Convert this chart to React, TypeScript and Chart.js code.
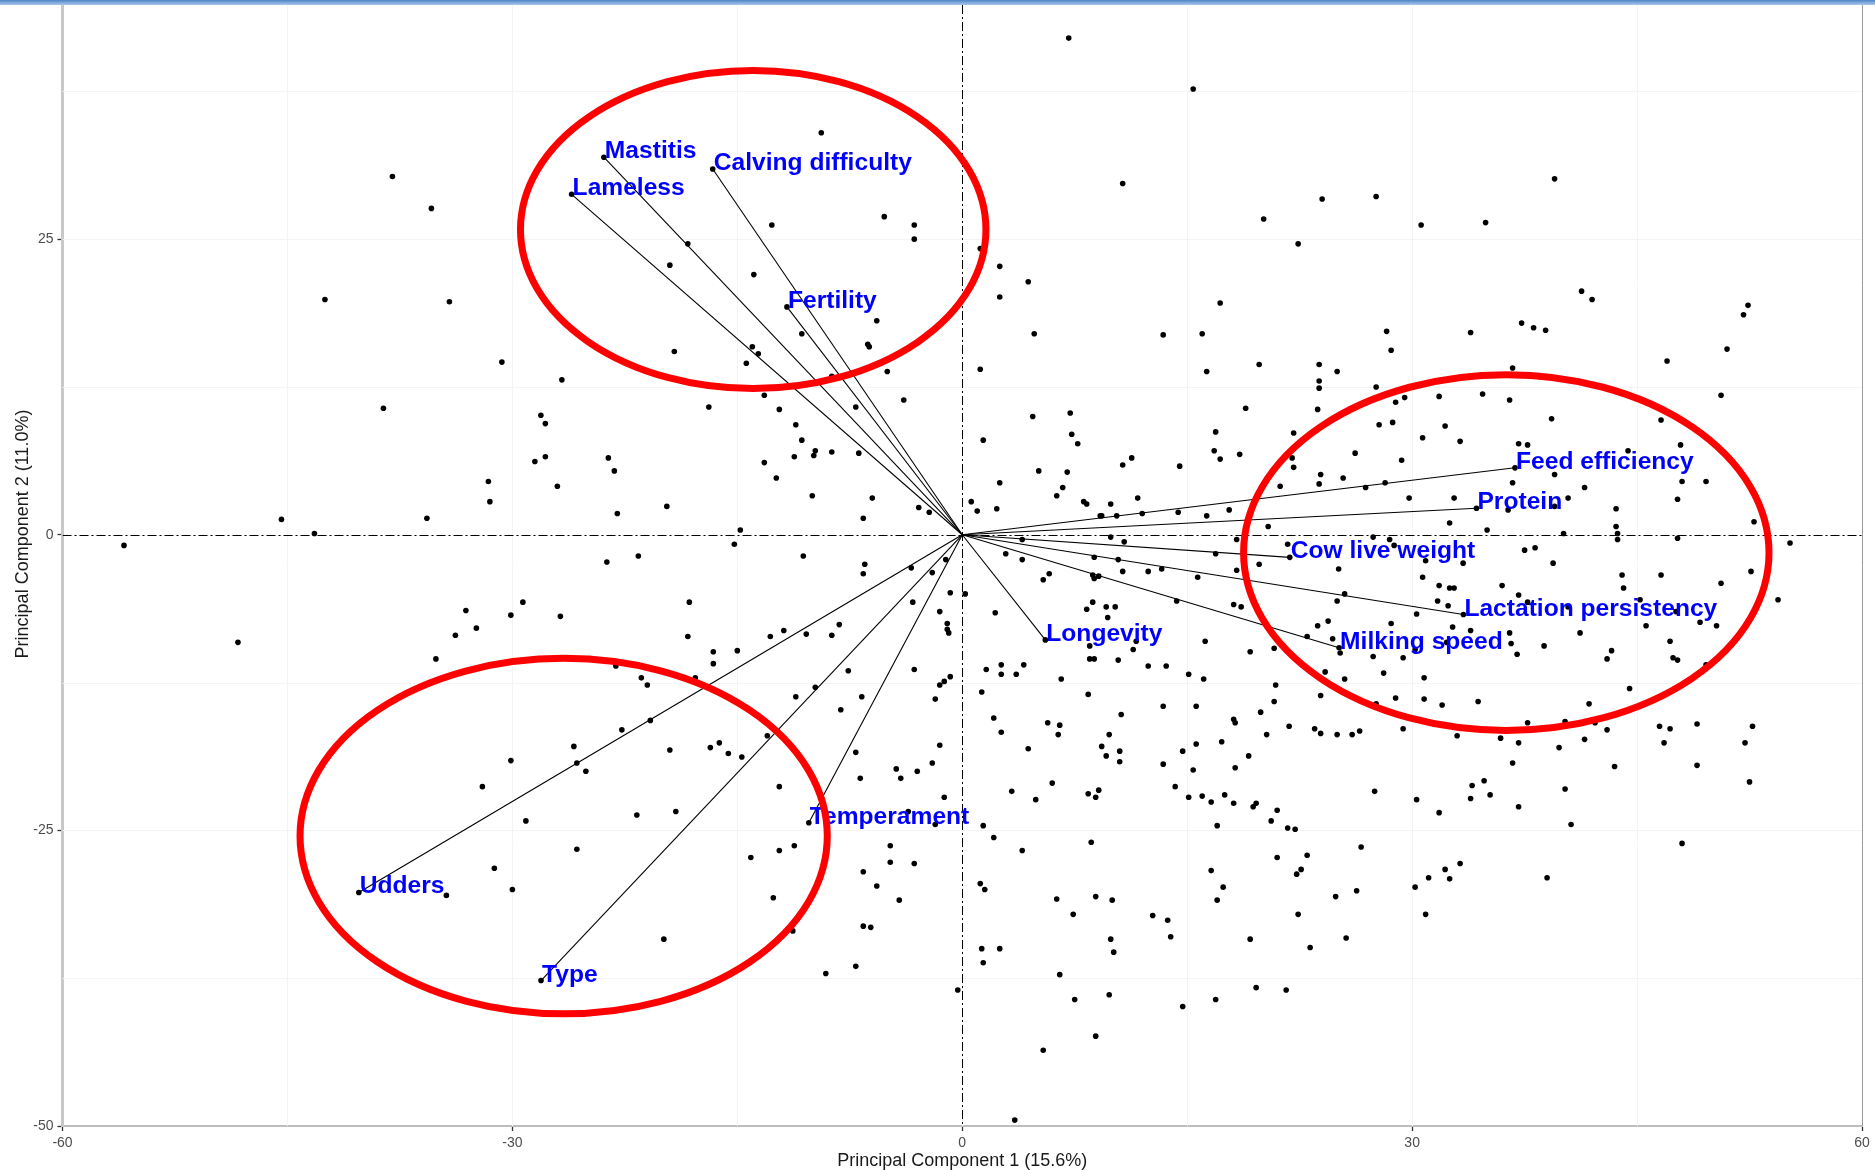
import React, { useEffect, useRef } from "react";
import { Chart, registerables } from "chart.js";

Chart.register(...registerables);

// ---------- axis / text ----------
const X_TICKS = [-60, -30, 0, 30, 60];
const Y_TICKS = [-50, -25, 0, 25];
const X_GRID = [-45, -30, -15, 0, 15, 30, 45];
const Y_GRID = [-37.5, -25, -12.5, 0, 12.5, 25, 37.5];
const X_MIN = -60;
const X_MAX = 60;
const Y_MIN = -50;
const Y_MAX = 44.8;
const X_TITLE = "Principal Component 1 (15.6%)";
const Y_TITLE = "Principal Component 2 (11.0%)";

// ---------- individual PC scores (PC1, PC2) ----------
const scoresUpperLeft: number[][] = [
  [-38.0, 30.3], [-35.4, 27.6], [-42.5, 19.9], [-34.2, 19.7], [-30.7, 14.6], [-26.7, 13.1],
  [-38.6, 10.7], [-28.1, 10.1], [-27.8, 9.4], [-28.5, 6.2], [-27.8, 6.6], [-31.6, 4.5],
  [-31.5, 2.8], [-27.0, 4.1], [-23.6, 6.5], [-23.2, 5.4], [-23.0, 1.8], [-45.4, 1.3],
  [-43.2, 0.1], [-35.7, 1.4], [-55.9, -0.9], [-23.7, -2.3], [-21.6, -1.8],
];

const scoresUpperMid: number[][] = [
  [7.1, 42.0], [15.4, 37.7], [-9.4, 34.0], [10.7, 29.7], [-5.2, 26.9], [-3.2, 26.2], [-3.2, 25.0],
  [-12.7, 26.2], [-18.3, 24.6], [-19.5, 22.8], [-13.9, 22.0], [1.2, 24.2], [2.5, 22.7], [4.4, 21.4],
  [2.5, 20.1], [17.2, 19.6], [4.8, 17.0], [13.4, 16.9], [16.0, 17.0], [16.3, 13.8], [19.8, 14.4],
  [1.2, 14.0], [-5.7, 18.1], [-10.7, 17.0], [-6.3, 16.1], [-6.2, 15.9], [-14.0, 15.9], [-13.6, 15.3],
  [-14.4, 14.5], [-19.2, 15.5], [-5.0, 13.8], [-8.7, 13.4], [-13.2, 11.8], [-16.9, 10.8], [-12.2, 10.6],
  [-7.1, 10.8], [-3.9, 11.4], [-11.1, 9.3], [-10.7, 8.0], [-9.8, 7.1], [-9.9, 6.7], [-11.2, 6.6],
  [-8.7, 7.0], [-6.9, 6.9], [-13.2, 6.1], [-12.4, 4.8], [-10.0, 3.3], [-6.0, 3.1], [-6.6, 1.4],
  [-2.9, 2.3], [-2.2, 1.9], [-19.7, 2.4], [-14.8, 0.4], [-15.2, -0.8], [-10.6, -1.8], [-6.5, -2.5],
  [-1.1, -2.1], [0.6, 2.8], [1.0, 2.0], [2.3, 2.2], [4.7, 10.0], [7.2, 10.3], [1.4, 8.0], [7.3, 8.5],
  [7.7, 7.7], [2.5, 4.4], [5.1, 5.4], [7.0, 5.3], [6.7, 4.0], [6.3, 3.3], [8.1, 2.8], [8.3, 2.6],
  [9.9, 2.6], [9.2, 1.6], [9.3, 1.6], [10.3, 1.6], [10.7, 5.9], [11.3, 6.5], [11.7, 3.1], [12.0, 1.8],
  [14.5, 5.8], [14.4, 1.9], [16.3, 1.6], [17.8, 2.1], [18.9, 10.7], [16.9, 8.7], [16.8, 7.1],
  [17.2, 6.4], [18.5, 6.8], [4.0, -0.4], [9.9, -0.2], [10.8, -0.6], [2.9, -1.6], [4.0, -2.1],
  [8.8, -1.9], [10.4, -2.1], [16.9, -1.6], [18.3, -0.4], [19.8, -2.5],
];

const scoresUpperRight: number[][] = [
  [39.5, 30.1], [24.0, 28.4], [27.6, 28.6], [20.1, 26.7], [30.6, 26.2], [34.9, 26.4], [22.4, 24.6],
  [41.3, 20.6], [42.0, 19.9], [52.4, 19.4], [52.1, 18.6], [28.3, 17.2], [28.6, 15.6], [33.9, 17.1],
  [37.3, 17.9], [38.1, 17.5], [38.9, 17.3], [51.0, 15.7], [47.0, 14.7], [23.8, 14.4], [25.0, 13.8],
  [23.8, 13.0], [23.8, 12.4], [27.6, 12.5], [36.7, 14.1], [50.6, 11.8], [23.7, 10.6], [29.5, 11.6],
  [28.9, 11.2], [31.8, 11.7], [34.7, 11.9], [36.5, 11.4], [39.3, 9.8], [46.6, 9.7], [22.1, 8.6],
  [27.8, 9.3], [28.7, 9.5], [32.2, 9.2], [30.7, 8.2], [33.2, 7.9], [37.1, 7.7], [37.7, 7.6],
  [47.9, 7.6], [44.4, 7.1], [26.2, 6.9], [22.0, 6.5], [22.1, 5.7], [29.3, 6.3], [23.9, 5.1],
  [23.8, 4.3], [25.4, 4.8], [21.2, 4.1], [26.9, 4.0], [28.2, 4.4], [29.8, 3.1], [32.8, 3.1],
  [36.7, 4.4], [39.5, 5.1], [41.5, 4.0], [40.4, 3.1], [39.5, 2.4], [36.4, 2.1], [43.6, 2.2],
  [48.0, 4.5], [49.6, 4.5], [47.7, 3.0], [52.8, 1.1], [32.5, 1.0], [35.0, 0.4], [43.6, 0.7],
  [43.7, 0.1], [43.7, -0.4], [40.1, 0.1], [47.7, -0.3], [55.2, -0.7], [20.4, 0.7], [27.4, -0.2],
  [28.5, -0.4], [21.7, -0.8], [28.8, -0.9], [37.5, -1.3], [38.2, -1.1], [30.9, -2.2], [33.4, -2.4],
  [39.4, -2.4],
];

const scoresLowerLeft: number[][] = [
  [-48.3, -9.1], [-33.1, -6.4], [-32.4, -7.9], [-33.8, -8.5], [-35.1, -10.5], [-30.1, -6.8],
  [-29.3, -5.7], [-26.8, -6.9], [-23.1, -11.1], [-21.4, -12.1], [-21.0, -12.7], [-20.8, -15.7],
  [-22.7, -16.5], [-25.9, -17.9], [-25.7, -19.3], [-25.1, -20.0], [-30.1, -19.1], [-32.0, -21.3],
  [-29.1, -24.2], [-21.7, -23.7], [-25.7, -26.6], [-31.2, -28.2], [-30.0, -30.0], [-34.4, -30.5],
];

const scoresLowerMid: number[][] = [
  [-6.6, -3.3], [-3.4, -2.8], [-2.0, -3.2], [-18.2, -5.7], [-18.3, -8.6], [-16.6, -9.9], [-16.6, -10.9],
  [-15.0, -9.8], [-12.8, -8.6], [-11.9, -8.1], [-10.4, -8.4], [-8.7, -8.5], [-8.2, -7.6], [-3.3, -5.7],
  [-1.5, -6.5], [-0.8, -4.9], [0.2, -5.0], [-1.0, -7.5], [-1.0, -8.0], [-0.9, -8.3], [2.2, -6.6],
  [5.4, -3.8], [5.8, -3.3], [8.7, -3.4], [8.8, -3.7], [9.1, -3.5], [10.7, -3.1], [12.4, -3.1],
  [13.3, -2.9], [15.7, -3.6], [18.3, -3.0], [8.7, -5.7], [8.3, -6.3], [9.6, -6.1], [10.2, -6.1],
  [9.7, -7.0], [14.3, -5.6], [18.1, -5.9], [18.6, -6.1], [16.2, -9.0], [19.2, -9.9], [8.5, -9.4],
  [11.6, -9.0], [11.4, -9.7], [8.5, -10.5], [8.8, -10.5], [10.4, -10.6], [12.4, -11.1], [13.6, -11.1],
  [15.1, -11.8], [16.1, -12.2], [1.6, -11.4], [2.6, -11.0], [2.6, -11.8], [3.6, -11.8], [4.1, -11.0],
  [6.6, -12.2], [-3.2, -11.4], [-1.5, -12.7], [-1.2, -12.4], [-0.8, -12.0], [-1.8, -13.9], [1.3, -13.3],
  [-7.6, -11.5], [-6.7, -13.7], [-11.1, -13.7], [-9.8, -12.9], [-8.1, -14.8], [-17.8, -12.1],
  [2.1, -15.5], [2.6, -16.7], [5.7, -15.9], [6.5, -16.1], [6.4, -16.9], [8.4, -13.5], [10.6, -15.2],
  [9.8, -16.9], [9.3, -17.9], [9.6, -18.7], [10.5, -18.3], [10.5, -19.2], [4.4, -18.1], [13.4, -14.5],
  [15.6, -14.5], [18.1, -15.6], [18.2, -15.9], [17.3, -17.5], [15.6, -17.7], [14.7, -18.3],
  [13.4, -19.4], [15.4, -19.9], [19.1, -18.7], [18.2, -19.7], [14.2, -21.3], [15.1, -22.2],
  [16.0, -22.1], [16.6, -22.6], [17.5, -22.0], [18.1, -22.7], [19.4, -23.0], [19.6, -22.7],
  [17.0, -24.6], [8.4, -21.9], [9.1, -21.6], [8.9, -22.2], [6.0, -21.0], [3.3, -21.7], [4.9, -22.4],
  [1.4, -24.6], [2.1, -25.6], [4.0, -26.7], [8.6, -26.0], [16.6, -28.4], [17.4, -29.8], [17.0, -30.9],
  [6.3, -30.8], [8.9, -30.6], [10.0, -30.9], [7.4, -32.1], [12.7, -32.2], [13.7, -32.6], [13.9, -34.0],
  [9.9, -34.2], [10.1, -35.3], [19.2, -34.2], [6.5, -37.2], [7.5, -39.3], [9.8, -38.9], [14.7, -39.9],
  [16.9, -39.3], [19.6, -38.3], [8.9, -42.4], [5.4, -43.6], [3.5, -49.5], [1.2, -29.5], [1.5, -30.0],
  [1.3, -35.0], [2.5, -35.0], [1.4, -36.2], [-0.3, -38.5], [-7.1, -36.5], [-9.1, -37.1], [-6.6, -33.1],
  [-6.1, -33.2], [-4.2, -30.9], [-5.7, -29.7], [-6.6, -28.5], [-4.8, -26.3], [-4.8, -27.7],
  [-3.2, -27.8], [-1.8, -24.5], [-1.2, -22.2], [-1.5, -17.8], [-2.0, -19.3], [-3.0, -20.0],
  [-4.4, -19.8], [-4.1, -20.6], [-6.8, -20.6], [-7.1, -18.4], [-3.6, -23.4], [-12.2, -21.3],
  [-13.0, -17.0], [-16.8, -18.0], [-16.2, -17.6], [-15.6, -18.5], [-14.7, -18.8], [-19.5, -18.2],
  [-19.1, -23.4], [-14.1, -27.3], [-12.2, -26.7], [-11.2, -26.3], [-12.6, -30.7], [-11.3, -33.5],
  [-19.9, -34.2],
];

const scoresLowerRight: number[][] = [
  [25.1, -2.9], [30.7, -3.6], [31.8, -4.3], [32.5, -4.5], [32.8, -4.5], [36.0, -4.3], [37.1, -5.1],
  [37.7, -5.7], [44.0, -3.4], [44.1, -4.5], [46.6, -3.4], [50.6, -4.1], [52.6, -3.1], [54.4, -5.5],
  [25.5, -5.0], [25.0, -5.6], [30.3, -6.7], [31.7, -5.6], [32.4, -6.0], [32.7, -7.8], [33.9, -8.1],
  [36.5, -8.3], [36.6, -9.2], [37.0, -10.1], [38.8, -9.4], [41.2, -8.3], [40.4, -6.1], [45.2, -5.5],
  [45.6, -7.7], [47.6, -6.5], [49.2, -7.4], [50.3, -7.7], [47.2, -9.0], [47.4, -10.4], [47.7, -10.6],
  [43.3, -9.8], [43.0, -10.5], [49.6, -11.0], [23.7, -7.7], [24.4, -7.3], [23.0, -8.6], [24.7, -8.8],
  [20.8, -9.6], [25.2, -10.0], [28.6, -7.5], [27.4, -10.3], [29.4, -10.4], [30.2, -9.7], [32.3, -9.1],
  [24.2, -11.6], [25.5, -12.2], [28.1, -11.7], [30.8, -12.1], [20.9, -12.7], [20.8, -14.1],
  [23.9, -13.6], [19.9, -15.0], [27.6, -14.3], [28.9, -13.8], [30.8, -13.9], [32.0, -14.4],
  [34.4, -14.1], [20.3, -16.9], [21.8, -16.2], [23.5, -16.4], [23.9, -16.8], [25.0, -16.9],
  [26.0, -16.9], [26.5, -16.6], [29.4, -16.4], [33.0, -17.0], [35.9, -17.2], [37.1, -17.6],
  [37.7, -15.9], [40.2, -15.8], [42.2, -15.9], [41.8, -14.3], [44.5, -13.0], [43.0, -16.5],
  [41.5, -17.3], [39.8, -18.0], [36.7, -19.3], [43.5, -19.6], [46.5, -16.2], [47.2, -16.4],
  [49.0, -16.0], [46.8, -17.6], [49.0, -19.5], [52.2, -17.6], [52.7, -16.2], [52.5, -20.9],
  [27.5, -21.7], [30.3, -22.4], [31.8, -23.5], [33.9, -22.3], [34.0, -21.2], [34.8, -20.8],
  [35.2, -22.0], [37.1, -23.0], [40.2, -21.5], [40.6, -24.5], [21.0, -23.3], [20.6, -24.2],
  [21.7, -24.8], [22.2, -24.9], [21.0, -27.3], [23.0, -27.1], [22.6, -28.3], [22.3, -28.7],
  [26.6, -26.4], [24.9, -30.6], [26.3, -30.1], [30.2, -29.8], [31.1, -29.0], [32.2, -28.3],
  [32.5, -29.1], [33.2, -27.8], [39.0, -29.0], [48.0, -26.1], [22.4, -32.1], [30.9, -32.1],
  [25.6, -34.1], [23.2, -34.9], [21.6, -38.5],
];

// ---------- trait loadings (arrow end points) ----------
const traitNames = [
  "Mastitis", "Lameless", "Calving difficulty", "Fertility",
  "Feed efficiency", "Protein", "Cow live weight", "Lactation persistency", "Milking speed",
  "Longevity", "Temperament", "Udders", "Type",
];
const traitPC1 = [-23.9, -26.05, -16.64, -11.69, 36.86, 34.29, 21.84, 33.42, 25.13, 5.54, -10.23, -40.24, -28.09];
const traitPC2 = [31.93, 28.79, 30.93, 19.27, 5.66, 2.24, -1.91, -6.75, -9.56, -8.89, -24.36, -30.25, -37.7];

// ---------- highlighted groups (ellipses, data units) ----------
const groupCentreX = [-13.94, 36.28, -26.58];
const groupCentreY = [25.81, -1.51, -25.48];
const groupRadiusX = [15.52, 17.52, 17.58];
const groupRadiusY = [13.45, 15.04, 15.03];

const FONT = '"Liberation Sans", Arial, Helvetica, sans-serif';

const allScores = [
  ...scoresUpperLeft, ...scoresUpperMid, ...scoresUpperRight,
  ...scoresLowerLeft, ...scoresLowerMid, ...scoresLowerRight,
];

const overlayPlugin = {
  id: "pcaOverlay",
  beforeDatasetsDraw(chart: any) {
    const { ctx, chartArea: a, scales } = chart;
    const xs = scales.x;
    const ys = scales.y;
    ctx.save();
    ctx.beginPath();
    ctx.rect(a.left, a.top, a.right - a.left, a.bottom - a.top);
    ctx.clip();
    ctx.strokeStyle = "#f4f4f4";
    ctx.lineWidth = 1;
    for (const v of X_GRID) {
      const p = Math.round(xs.getPixelForValue(v)) + 0.5;
      ctx.beginPath();
      ctx.moveTo(p, a.top);
      ctx.lineTo(p, a.bottom);
      ctx.stroke();
    }
    for (const v of Y_GRID) {
      const p = Math.round(ys.getPixelForValue(v)) + 0.5;
      ctx.beginPath();
      ctx.moveTo(a.left, p);
      ctx.lineTo(a.right, p);
      ctx.stroke();
    }
    // dash-dot reference lines through the origin
    ctx.strokeStyle = "#000";
    ctx.lineWidth = 1;
    ctx.setLineDash([9, 3, 2, 3]);
    const x0 = Math.round(xs.getPixelForValue(0)) + 0.5;
    const y0 = Math.round(ys.getPixelForValue(0)) + 0.5;
    ctx.beginPath();
    ctx.moveTo(x0, a.top);
    ctx.lineTo(x0, a.bottom);
    ctx.stroke();
    ctx.beginPath();
    ctx.moveTo(a.left, y0);
    ctx.lineTo(a.right, y0);
    ctx.stroke();
    ctx.restore();
  },
  afterDatasetsDraw(chart: any) {
    const { ctx, scales } = chart;
    const xs = scales.x;
    const ys = scales.y;
    ctx.save();
    // trait labels
    ctx.font = `bold 24.6px ${FONT}`;
    ctx.fillStyle = "#0000ff";
    ctx.textAlign = "left";
    ctx.textBaseline = "alphabetic";
    traitNames.forEach((name, i) => {
      const px = xs.getPixelForValue(traitPC1[i]);
      const py = ys.getPixelForValue(traitPC2[i]);
      ctx.fillText(name, px + 1, py + 1);
    });
    // red ellipses
    ctx.strokeStyle = "#ff0000";
    ctx.lineWidth = 7;
    groupCentreX.forEach((cx, i) => {
      const pcx = xs.getPixelForValue(cx);
      const pcy = ys.getPixelForValue(groupCentreY[i]);
      const rx = Math.abs(xs.getPixelForValue(cx + groupRadiusX[i]) - pcx);
      const ry = Math.abs(ys.getPixelForValue(groupCentreY[i] + groupRadiusY[i]) - pcy);
      ctx.beginPath();
      ctx.ellipse(pcx, pcy, rx, ry, 0, 0, Math.PI * 2);
      ctx.stroke();
    });
    ctx.restore();
  },
  afterDraw(chart: any) {
    const { ctx, chartArea: a, width } = chart;
    ctx.save();
    // right panel border
    ctx.strokeStyle = "#9a9a9a";
    ctx.lineWidth = 1;
    ctx.beginPath();
    ctx.moveTo(a.right + 0.5, a.top);
    ctx.lineTo(a.right + 0.5, a.bottom);
    ctx.stroke();
    // axis titles
    ctx.fillStyle = "#1a1a1a";
    ctx.font = `18px ${FONT}`;
    ctx.textAlign = "center";
    ctx.textBaseline = "middle";
    ctx.fillText(X_TITLE, (a.left + a.right) / 2, 1161);
    ctx.save();
    ctx.translate(23, 534);
    ctx.rotate(-Math.PI / 2);
    ctx.fillText(Y_TITLE, 0, 0);
    ctx.restore();
    // window chrome strip at the very top
    const g = ctx.createLinearGradient(0, 0, 0, 5);
    g.addColorStop(0, "#4f86c6");
    g.addColorStop(1, "#a9c8ea");
    ctx.fillStyle = g;
    ctx.fillRect(0, 0, width, 5);
    ctx.restore();
  },
};

export default function App() {
  const canvasRef = useRef<HTMLCanvasElement | null>(null);

  useEffect(() => {
    document.body.style.margin = "0";
    const canvas = canvasRef.current;
    if (!canvas) return;

    const traitDatasets = traitNames.map((name, i) => ({
      type: "scatter" as const,
      label: name,
      data: [
        { x: 0, y: 0 },
        { x: traitPC1[i], y: traitPC2[i] },
      ],
      showLine: true,
      borderColor: "#000",
      borderWidth: 1.1,
      pointRadius: [0, 2.8],
      pointBackgroundColor: "#000",
      pointBorderWidth: 0,
      order: 1,
    }));

    const chart = new Chart(canvas, {
      type: "scatter",
      data: {
        datasets: [
          {
            label: "Individuals",
            data: allScores.map(([x, y]) => ({ x, y })),
            pointRadius: 2.8,
            pointBackgroundColor: "#000",
            pointBorderWidth: 0,
            order: 2,
          },
          ...traitDatasets,
        ] as any,
      },
      options: {
        animation: false,
        responsive: false,
        devicePixelRatio: 1,
        events: [],
        layout: { padding: { top: 5, right: 13, left: 0, bottom: 0 } },
        plugins: { legend: { display: false }, tooltip: { enabled: false } },
        scales: {
          x: {
            type: "linear",
            min: X_MIN,
            max: X_MAX,
            afterBuildTicks: (s: any) => {
              s.ticks = X_TICKS.map((v) => ({ value: v }));
            },
            afterFit: (s: any) => {
              s.height = 44;
              s.paddingLeft = 0;
              s.paddingRight = 0;
            },
            ticks: {
              color: "#4d4d4d",
              font: { family: FONT, size: 14 },
              padding: 4,
              maxRotation: 0,
              autoSkip: false,
            },
            grid: {
              drawOnChartArea: false,
              drawTicks: true,
              tickLength: 5,
              tickColor: "#333",
              tickWidth: 1.3,
            },
            border: { display: true, color: "#bdbdbd", width: 2 },
          },
          y: {
            type: "linear",
            min: Y_MIN,
            max: Y_MAX,
            afterBuildTicks: (s: any) => {
              s.ticks = Y_TICKS.map((v) => ({ value: v }));
            },
            afterFit: (s: any) => {
              s.width = 62.5;
              s.paddingTop = 0;
              s.paddingBottom = 0;
            },
            ticks: {
              color: "#4d4d4d",
              font: { family: FONT, size: 14 },
              padding: 4,
              autoSkip: false,
            },
            grid: {
              drawOnChartArea: false,
              drawTicks: true,
              tickLength: 5,
              tickColor: "#333",
              tickWidth: 1.3,
            },
            border: { display: true, color: "#c8c8c8", width: 3 },
          },
        },
      } as any,
      plugins: [overlayPlugin],
    });

    return () => chart.destroy();
  }, []);

  return (
    <div style={{ width: 1875, height: 1170, background: "#fff" }}>
      <canvas ref={canvasRef} width={1875} height={1170} style={{ display: "block", width: 1875, height: 1170 }} />
    </div>
  );
}
